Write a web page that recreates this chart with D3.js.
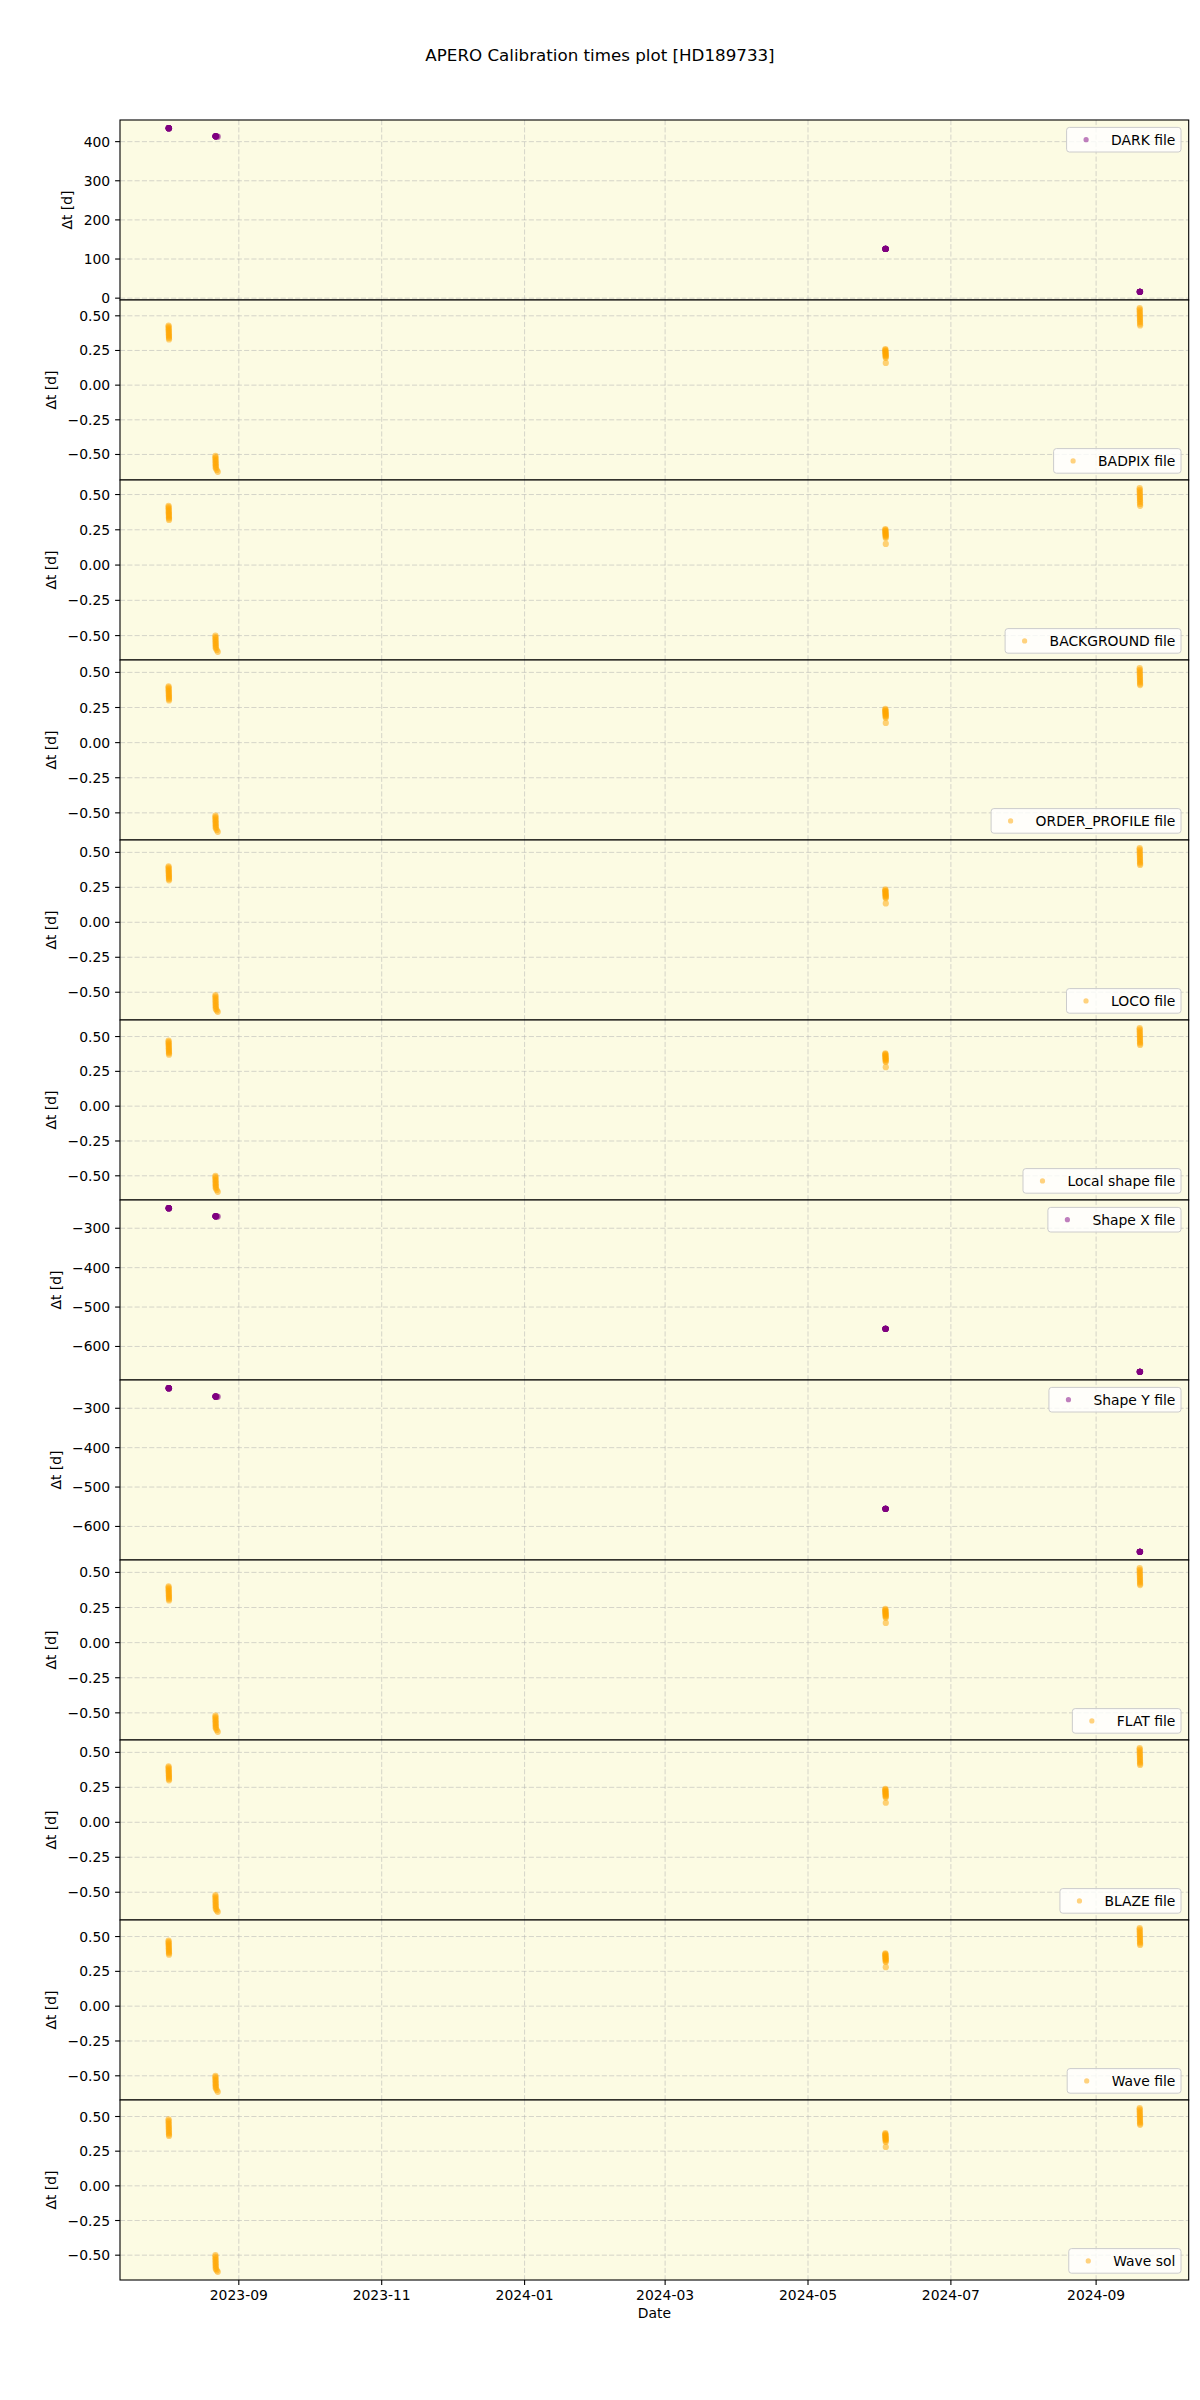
<!DOCTYPE html>
<html><head><meta charset="utf-8">
<script src="https://cdn.jsdelivr.net/npm/d3@7"></script>
<style>body{margin:0;background:#fff} text{font-family:"DejaVu Sans",sans-serif}</style>
</head><body><svg id="c" width="1200" height="2400"></svg>
<script>
// ---------- DATA ----------
const panelLabels = ["DARK file","BADPIX file","BACKGROUND file","ORDER_PROFILE file","LOCO file","Local shape file","Shape X file","Shape Y file","FLAT file","BLAZE file","Wave file","Wave sol"];
const panelColors = ["purple","orange","orange","orange","orange","orange","purple","purple","orange","orange","orange","orange"];
const legendLocs = ["upper","lower","lower","lower","lower","lower","upper","upper","lower","lower","lower","lower"];

const xTickDates = ["2023-09-01","2023-11-01","2024-01-01","2024-03-01","2024-05-01","2024-07-01","2024-09-01"];
const xTickLabels = ["2023-09","2023-11","2024-01","2024-03","2024-05","2024-07","2024-09"];
const yTicksDark = [0,100,200,300,400];
const yTicksSmall = [-0.5,-0.25,0,0.25,0.5];
const yTicksShape = [-600,-500,-400,-300];

const obsTimes = [
 "2023-08-02T00:20","2023-08-02T00:45","2023-08-02T01:10","2023-08-02T01:35","2023-08-02T02:00","2023-08-02T02:25","2023-08-02T02:50","2023-08-02T03:15","2023-08-02T03:40","2023-08-02T04:05","2023-08-02T04:30","2023-08-02T04:55",
 "2023-08-22T00:20","2023-08-22T00:45","2023-08-22T01:10","2023-08-22T01:35","2023-08-22T02:00","2023-08-22T02:25","2023-08-22T02:50","2023-08-22T03:15","2023-08-22T03:40","2023-08-22T04:05","2023-08-22T14:00","2023-08-23T00:30",
 "2024-06-03T00:20","2024-06-03T00:45","2024-06-03T01:10","2024-06-03T01:35","2024-06-03T02:00","2024-06-03T02:25","2024-06-03T02:50","2024-06-03T03:15","2024-06-03T03:40","2024-06-03T04:05","2024-06-03T04:30","2024-06-03T04:55",
 "2024-09-19T14:20","2024-09-19T14:45","2024-09-19T15:10","2024-09-19T15:35","2024-09-19T16:00","2024-09-19T16:25","2024-09-19T16:50","2024-09-19T17:15","2024-09-19T17:40","2024-09-19T18:05","2024-09-19T18:30","2024-09-19T18:55"];

const darkDt = [434.40,434.38,434.36,434.34,434.32,434.30,434.28,434.26,434.24,434.22,434.20,434.18,
 413.80,413.78,413.76,413.74,413.72,413.70,413.68,413.66,413.64,413.62,413.20,412.80,
 125.92,125.90,125.88,125.86,125.84,125.82,125.80,125.78,125.76,125.74,125.72,125.70,
 16.42,16.40,16.38,16.36,16.34,16.32,16.30,16.28,16.26,16.24,16.22,16.20];
const badpixDt = [0.430,0.421,0.412,0.403,0.394,0.385,0.376,0.367,0.358,0.349,0.340,0.330,
 -0.510,-0.520,-0.530,-0.540,-0.550,-0.560,-0.570,-0.580,-0.590,-0.600,-0.612,-0.625,
 0.260,0.254,0.248,0.242,0.236,0.230,0.224,0.218,0.212,0.205,0.197,0.160,
 0.555,0.544,0.533,0.522,0.511,0.500,0.489,0.478,0.467,0.456,0.443,0.430];
const backgroundDt = [0.420,0.411,0.402,0.393,0.384,0.375,0.366,0.357,0.348,0.339,0.330,0.320,
 -0.500,-0.510,-0.520,-0.530,-0.540,-0.550,-0.560,-0.570,-0.580,-0.590,-0.602,-0.615,
 0.255,0.249,0.243,0.237,0.231,0.225,0.219,0.213,0.207,0.200,0.192,0.150,
 0.545,0.534,0.523,0.512,0.501,0.490,0.479,0.468,0.457,0.446,0.433,0.420];
const orderProfileDt = [0.400,0.391,0.382,0.373,0.364,0.355,0.346,0.337,0.328,0.319,0.310,0.300,
 -0.520,-0.530,-0.540,-0.550,-0.560,-0.570,-0.580,-0.590,-0.600,-0.610,-0.622,-0.635,
 0.240,0.234,0.228,0.222,0.216,0.210,0.204,0.198,0.192,0.185,0.177,0.140,
 0.530,0.519,0.508,0.497,0.486,0.475,0.464,0.453,0.442,0.431,0.420,0.410];
const locoDt = [0.400,0.391,0.382,0.373,0.364,0.355,0.346,0.337,0.328,0.319,0.310,0.300,
 -0.520,-0.531,-0.542,-0.553,-0.564,-0.575,-0.586,-0.597,-0.608,-0.619,-0.630,-0.640,
 0.235,0.229,0.223,0.217,0.211,0.205,0.199,0.193,0.187,0.180,0.172,0.135,
 0.530,0.519,0.508,0.497,0.486,0.475,0.464,0.453,0.442,0.431,0.420,0.410];
const localShapeDt = [0.470,0.461,0.452,0.443,0.434,0.425,0.416,0.407,0.398,0.389,0.380,0.370,
 -0.500,-0.510,-0.520,-0.530,-0.540,-0.550,-0.560,-0.570,-0.580,-0.590,-0.602,-0.615,
 0.380,0.374,0.368,0.362,0.356,0.350,0.344,0.338,0.332,0.325,0.317,0.280,
 0.560,0.549,0.538,0.527,0.516,0.505,0.494,0.483,0.472,0.461,0.450,0.440];
const shapeXDt = [-249.10,-249.12,-249.14,-249.16,-249.18,-249.20,-249.22,-249.24,-249.26,-249.28,-249.30,-249.32,
 -269.50,-269.52,-269.54,-269.56,-269.58,-269.60,-269.62,-269.64,-269.66,-269.68,-270.10,-270.50,
 -555.00,-555.02,-555.04,-555.06,-555.08,-555.10,-555.12,-555.14,-555.16,-555.18,-555.20,-555.22,
 -664.10,-664.12,-664.14,-664.16,-664.18,-664.20,-664.22,-664.24,-664.26,-664.28,-664.30,-664.32];
const shapeYDt = [-249.00,-249.02,-249.04,-249.06,-249.08,-249.10,-249.12,-249.14,-249.16,-249.18,-249.20,-249.22,
 -270.00,-270.02,-270.04,-270.06,-270.08,-270.10,-270.12,-270.14,-270.16,-270.18,-270.60,-271.00,
 -555.10,-555.12,-555.14,-555.16,-555.18,-555.20,-555.22,-555.24,-555.26,-555.28,-555.30,-555.32,
 -664.20,-664.22,-664.24,-664.26,-664.28,-664.30,-664.32,-664.34,-664.36,-664.38,-664.40,-664.42];
const flatDt = [0.400,0.391,0.382,0.373,0.364,0.355,0.346,0.337,0.328,0.319,0.310,0.300,
 -0.520,-0.530,-0.540,-0.550,-0.560,-0.570,-0.580,-0.590,-0.600,-0.610,-0.622,-0.635,
 0.240,0.234,0.228,0.222,0.216,0.210,0.204,0.198,0.192,0.185,0.177,0.140,
 0.530,0.519,0.508,0.497,0.486,0.475,0.464,0.453,0.442,0.431,0.420,0.410];
const blazeDt = [0.400,0.391,0.382,0.373,0.364,0.355,0.346,0.337,0.328,0.319,0.310,0.300,
 -0.520,-0.531,-0.542,-0.553,-0.564,-0.575,-0.586,-0.597,-0.608,-0.619,-0.630,-0.640,
 0.240,0.234,0.228,0.222,0.216,0.210,0.204,0.198,0.192,0.185,0.177,0.140,
 0.530,0.519,0.508,0.497,0.486,0.475,0.464,0.453,0.442,0.431,0.420,0.410];
const waveFileDt = [0.470,0.461,0.452,0.443,0.434,0.425,0.416,0.407,0.398,0.389,0.380,0.370,
 -0.500,-0.510,-0.520,-0.530,-0.540,-0.550,-0.560,-0.570,-0.580,-0.590,-0.602,-0.615,
 0.380,0.374,0.368,0.362,0.356,0.350,0.344,0.338,0.332,0.325,0.317,0.280,
 0.560,0.549,0.538,0.527,0.516,0.505,0.494,0.483,0.472,0.461,0.450,0.440];
const waveSolDt = [0.480,0.469,0.458,0.447,0.436,0.425,0.414,0.403,0.392,0.381,0.370,0.360,
 -0.500,-0.511,-0.522,-0.533,-0.544,-0.555,-0.566,-0.577,-0.588,-0.599,-0.610,-0.620,
 0.380,0.374,0.368,0.362,0.356,0.350,0.344,0.338,0.332,0.325,0.317,0.280,
 0.560,0.549,0.538,0.527,0.516,0.505,0.494,0.483,0.472,0.461,0.450,0.440];

const panelValues = [darkDt,badpixDt,backgroundDt,orderProfileDt,locoDt,localShapeDt,shapeXDt,shapeYDt,flatDt,blazeDt,waveFileDt,waveSolDt];
const panelTicks = [yTicksDark,yTicksSmall,yTicksSmall,yTicksSmall,yTicksSmall,yTicksSmall,yTicksShape,yTicksShape,yTicksSmall,yTicksSmall,yTicksSmall,yTicksSmall];

// ---------- LAYOUT ----------
const L = 120, R = 1188.7, T = 120, PH = 180;
const FS = 13.9;
const svg = d3.select("#c");
const parseT = d3.utcParse("%Y-%m-%dT%H:%M");
const parseD = d3.utcParse("%Y-%m-%d");
const times = obsTimes.map(parseT);
const [tmin, tmax] = d3.extent(times);
const span = tmax - tmin;
const x = d3.scaleUtc().domain([new Date(+tmin - 0.05*span), new Date(+tmax + 0.05*span)]).range([L, R]);
const xt = xTickDates.map(parseD);

svg.append("text").attr("x", 600).attr("y", 61).attr("text-anchor","middle")
  .style("font-size","16.7px").text("APERO Calibration times plot [HD189733]");

panelValues.forEach((vals, i) => {
  const top = T + i*PH, bot = top + PH;
  const [vmin, vmax] = d3.extent(vals);
  const pad = (vmax - vmin)*0.05;
  const y = d3.scaleLinear().domain([vmin - pad, vmax + pad]).range([bot, top]);
  const g = svg.append("g");
  g.append("rect").attr("x", L).attr("y", top).attr("width", R-L).attr("height", PH).attr("fill", "#fcfbe3");
  const clipId = "clip"+i;
  svg.append("clipPath").attr("id", clipId).append("rect").attr("x", L).attr("y", top).attr("width", R-L).attr("height", PH);
  // grid
  g.selectAll(".gx").data(xt).join("line").attr("x1", d=>x(d)).attr("x2", d=>x(d)).attr("y1", top).attr("y2", bot)
    .attr("stroke","#b0b0b0").attr("stroke-opacity",0.5).attr("stroke-width",1).attr("stroke-dasharray","5.1,2.2");
  const ticks = panelTicks[i];
  g.selectAll(".gy").data(ticks).join("line").attr("x1", L).attr("x2", R).attr("y1", d=>y(d)).attr("y2", d=>y(d))
    .attr("stroke","#b0b0b0").attr("stroke-opacity",0.5).attr("stroke-width",1).attr("stroke-dasharray","5.1,2.2");
  // points
  g.append("g").attr("clip-path", `url(#${clipId})`).selectAll("circle").data(vals).join("circle")
    .attr("cx", (d,k)=>x(times[k])).attr("cy", d=>y(d)).attr("r", 3.1)
    .attr("fill", panelColors[i]).attr("fill-opacity", 0.5);
  // border
  g.append("rect").attr("x", L).attr("y", top).attr("width", R-L).attr("height", PH)
    .attr("fill","none").attr("stroke","#000").attr("stroke-width",1.1);
  // y ticks
  const fmt = i===0 || i===6 || i===7 ? d3.format("d") : d3.format(".2f");
  let minLeft = L;
  ticks.forEach(t => {
    g.append("line").attr("x1", L).attr("x2", L-4.9).attr("y1", y(t)).attr("y2", y(t)).attr("stroke","#000").attr("stroke-width",1.1);
    const tx = g.append("text").attr("x", L-9.8).attr("y", y(t)+5).attr("text-anchor","end").style("font-size", FS+"px").text(fmt(t));
    const bb = tx.node().getBBox();
    minLeft = Math.min(minLeft, bb.x);
  });
  const ly = (top+bot)/2, lx = minLeft - 11.5;
  g.append("text").attr("transform", `translate(${lx},${ly}) rotate(-90)`).attr("text-anchor","middle")
    .style("font-size", FS+"px").text("Δt [d]");
  // legend
  const lg = g.append("g");
  const box = lg.append("rect");
  const txt = lg.append("text").style("font-size", FS+"px").text(panelLabels[i]);
  const tw = txt.node().getComputedTextLength();
  const bw = 5.6 + 27.8 + 11.1 + tw + 5.6, bh = 24.6;
  const bx = R - 7.7 - bw;
  const by = legendLocs[i] === "upper" ? top + 7.4 : bot - 6.8 - bh;
  box.attr("x", bx).attr("y", by).attr("width", bw).attr("height", bh).attr("rx", 2.8)
    .attr("fill","#fff").attr("fill-opacity",0.8).attr("stroke","#cccccc").attr("stroke-width",1);
  lg.append("circle").attr("cx", bx + 5.6 + 13.9).attr("cy", by + bh/2).attr("r", 2.6)
    .attr("fill", panelColors[i]).attr("fill-opacity", 0.5);
  txt.attr("x", bx + 44.5).attr("y", by + bh/2 + 5);
  lg.raise();
});

// bottom x axis
const bottom = T + PH*panelValues.length;
xt.forEach((d,k) => {
  svg.append("line").attr("x1", x(d)).attr("x2", x(d)).attr("y1", bottom).attr("y2", bottom+4.9).attr("stroke","#000").attr("stroke-width",1.1);
  svg.append("text").attr("x", x(d)).attr("y", bottom+20).attr("text-anchor","middle").style("font-size", FS+"px").text(xTickLabels[k]);
});
svg.append("text").attr("x", (L+R)/2).attr("y", bottom+38).attr("text-anchor","middle").style("font-size", FS+"px").text("Date");
</script></body></html>
